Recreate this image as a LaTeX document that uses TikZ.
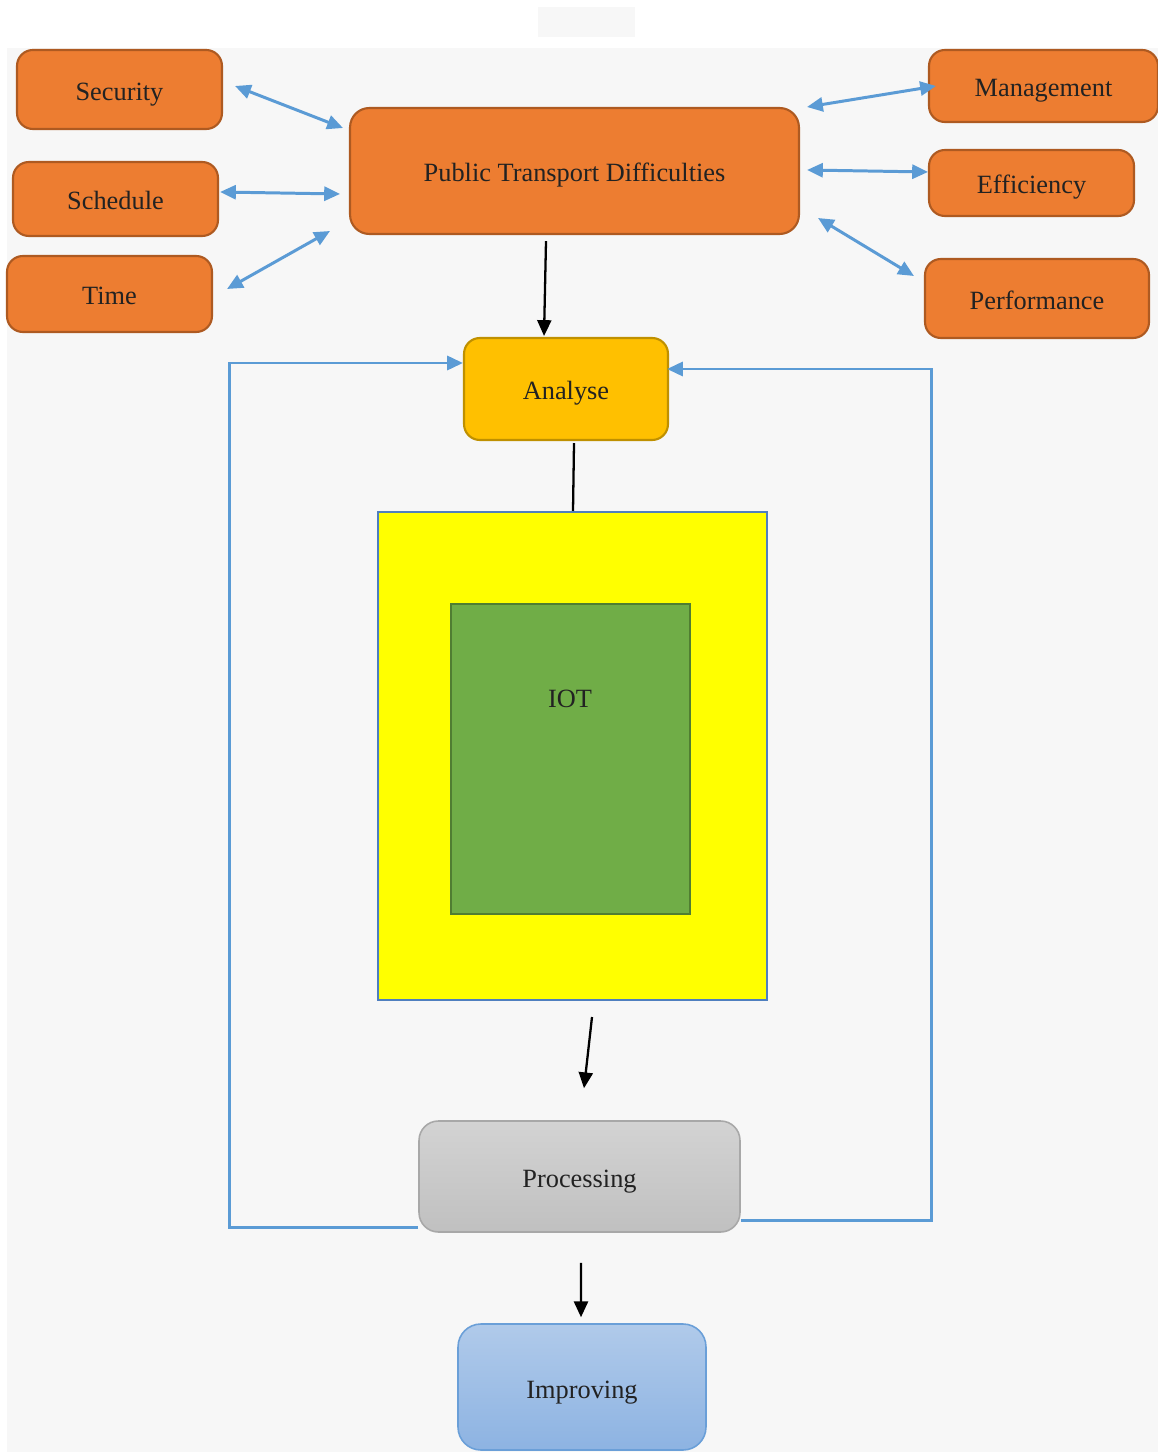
\documentclass[tikz,border=0pt]{standalone}
\usepackage{fontspec}
\setmainfont{Liberation Serif}
\usetikzlibrary{arrows.meta,calc}
\definecolor{bgc}{HTML}{F7F7F7}
\definecolor{orf}{HTML}{ED7D31}
\definecolor{ord}{HTML}{AE5A21}
\definecolor{blc}{HTML}{5B9BD5}
\definecolor{txt}{HTML}{222222}
\definecolor{anf}{HTML}{FFC000}
\definecolor{and}{HTML}{BF9000}
\definecolor{ylw}{HTML}{FFFF00}
\definecolor{ylwd}{HTML}{4F7FBF}
\definecolor{grf}{HTML}{70AD47}
\definecolor{grd}{HTML}{507E32}
\definecolor{prt}{HTML}{D3D3D3}
\definecolor{prb}{HTML}{C0C0C0}
\definecolor{prd}{HTML}{A8A8A8}
\definecolor{imt}{HTML}{B0CAEA}
\definecolor{imb}{HTML}{8DB3E2}
\definecolor{imd}{HTML}{6A9FD8}
\tikzset{
  lbl/.style={font=\fontsize{15}{18}\selectfont, text=txt, inner sep=0pt, text height=14pt, text depth=2pt},
  orangebox/.style={lbl, draw=ord, fill=orf, line width=1.2pt, rounded corners=9pt},
  biarrow/.style={draw=blc, line width=1.7pt, {Triangle[length=9pt,width=8pt]}-{Triangle[length=9pt,width=8pt]}},
  blkarrow/.style={draw=black, line width=1.3pt, -{Triangle[length=9pt,width=8pt]}},
  looparrow/.style={draw=blc, line width=1.7pt, -{Triangle[length=9pt,width=8pt]}},
}
\begin{document}
\begin{tikzpicture}[x=0.02cm,y=-0.02cm]
\useasboundingbox (0,0) rectangle (1158,1452);
\fill[white] (0,0) rectangle (1158,1452);
\fill[bgc] (7,48) rectangle (1158,1452);
\fill[bgc] (538,7) rectangle (635,37);

% orange nodes
\node[orangebox, minimum width=4.1cm, minimum height=1.58cm] (sec) at (119.5,89.5) {Security};
\node[orangebox, minimum width=4.1cm, minimum height=1.48cm] (sch) at (115.5,199) {Schedule};
\node[orangebox, minimum width=4.1cm, minimum height=1.52cm] (tim) at (109.5,294) {Time};
\node[orangebox, minimum width=8.98cm, minimum height=2.52cm, rounded corners=11pt] (ptd) at (574.5,171) {Public Transport Difficulties};
\node[orangebox, minimum width=4.58cm, minimum height=1.44cm] (man) at (1043.5,86) {Management};
\node[orangebox, minimum width=4.1cm, minimum height=1.32cm] (eff) at (1031.5,183) {Efficiency};
\node[orangebox, minimum width=4.48cm, minimum height=1.58cm] (per) at (1037,298.5) {Performance};

% central chain
\node[lbl, draw=and, fill=anf, line width=1.2pt, rounded corners=9pt, minimum width=4.08cm, minimum height=2.04cm] (ana) at (566,389) {Analyse};
\node[draw=ylwd, fill=ylw, line width=1.2pt, minimum width=7.78cm, minimum height=9.76cm, inner sep=0pt] (yel) at (572.5,756) {};
\node[draw=grd, fill=grf, line width=1.2pt, minimum width=4.78cm, minimum height=6.2cm, inner sep=0pt] (grn) at (570.5,759) {};
\node[lbl] (iot) at (570,697) {IOT};
\node[lbl, text height=15pt, draw=prd, top color=prt, bottom color=prb, line width=0.9pt, rounded corners=11pt, minimum width=6.42cm, minimum height=2.22cm] (pro) at (579.5,1176.5) {Processing};
\node[lbl, text height=15pt, draw=imd, top color=imt, bottom color=imb, line width=0.9pt, rounded corners=13pt, minimum width=4.96cm, minimum height=2.52cm] (imp) at (582,1387) {Improving};

% blue double arrows
\draw[biarrow] ([shift={(12,-3.5)}]sec.east) -- ([shift={(-6,-43)}]ptd.west);
\draw[biarrow] ([shift={(1,-7)}]sch.east) -- ([shift={(-9,23)}]ptd.west);
\draw[biarrow] ([shift={(14,-5)}]tim.east) -- ([shift={(-19,60)}]ptd.west);
\draw[biarrow] ([shift={(7,-64)}]ptd.east) -- ([shift={(8,0)}]man.west);
\draw[biarrow] ([shift={(7,-1)}]ptd.east) -- ([shift={(0,-11)}]eff.west);
\draw[biarrow] ([shift={(18,47)}]ptd.east) -- ([shift={(-10,-22.5)}]per.west);

% black arrows
\draw[blkarrow] ([shift={(-28.5,6)}]ptd.south) -- ([shift={(-22,-1)}]ana.north);
\draw[draw=black, line width=1.3pt] ([shift={(8,2)}]ana.south) -- ([shift={(0.5,0)}]yel.north);
\draw[blkarrow] ([shift={(19.5,16)}]yel.south) -- ([shift={(4.5,-32)}]pro.north);
\draw[blkarrow] ([shift={(1.5,30)}]pro.south) -- ([shift={(-1,-6)}]imp.north);

% feedback loops
\draw[looparrow] ([shift={(0,50.5)}]pro.west) -- ++(-189,0) |- ([shift={(0,-26)}]ana.west);
\draw[looparrow] ([shift={(0,43.5)}]pro.east) -- ++(191,0) |- ([shift={(-2,-20)}]ana.east);
\end{tikzpicture}
\end{document}
